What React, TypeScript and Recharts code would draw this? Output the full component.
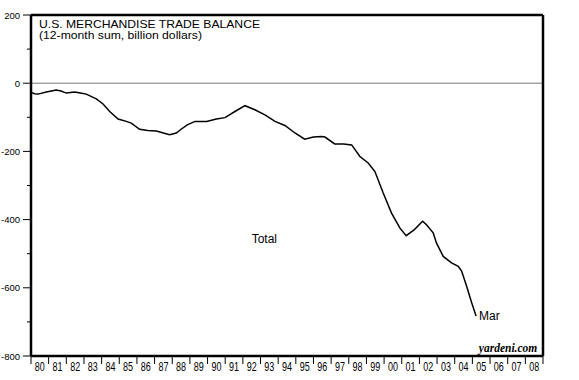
import React from 'react';
import { LineChart, Line, XAxis, YAxis, ReferenceLine, ReferenceDot } from 'recharts';

// 12-month sum, billion dollars (x = fractional year)
const years = [
  1980.0, 1980.2, 1980.4, 1980.87, 1981.43, 1981.7, 1982.0, 1982.47, 1982.8, 1983.13,
  1983.7, 1984.08, 1984.46, 1984.93, 1985.4, 1985.68, 1986.15, 1986.62, 1987.1, 1987.5,
  1987.85, 1988.23, 1988.5, 1988.85, 1989.29, 1989.95, 1990.5, 1990.99, 1991.55, 1992.12,
  1992.68, 1993.25, 1993.82, 1994.38, 1994.95, 1995.5, 1996.0, 1996.46, 1996.65, 1997.2,
  1997.7, 1998.16, 1998.63, 1999.1, 1999.48, 1999.95, 2000.42, 2000.9, 2001.25, 2001.7,
  2002.18, 2002.4, 2002.78, 2002.97, 2003.35, 2003.82, 2004.2, 2004.39, 2004.67, 2004.96,
  2005.21,
];
const balance = [
  -27, -31, -32, -26, -20, -23, -29, -26, -29, -32,
  -46, -61, -83, -105, -112, -117, -135, -139, -140, -146,
  -151, -146, -135, -122, -112, -112, -105, -101, -83, -66,
  -78, -93, -112, -124, -146, -164, -158, -156, -158, -178,
  -178, -181, -215, -234, -259, -322, -381, -425, -447, -430,
  -405, -415, -439, -469, -508, -527, -537, -551, -595, -644,
  -683,
];
const yearTicks = [
  1980, 1981, 1982, 1983, 1984, 1985, 1986, 1987, 1988, 1989, 1990, 1991, 1992, 1993, 1994,
  1995, 1996, 1997, 1998, 1999, 2000, 2001, 2002, 2003, 2004, 2005, 2006, 2007, 2008, 2009,
];
const valueTicks = [-800, -700, -600, -500, -400, -300, -200, -100, 0, 100, 200];

const data = years.map((year, i) => ({ year, balance: balance[i] }));

const W = 579;
const H = 380;
const LEFT_W = 31;
const RIGHT_W = 36;
const HALF_YEAR = (W - LEFT_W - RIGHT_W) / (yearTicks.length - 1) / 2;
const FONT = '"Liberation Sans", Arial, sans-serif';

function YearTick(props: any) {
  const { x, y, payload } = props;
  const isLast = payload.value === yearTicks[yearTicks.length - 1];
  return (
    <g>
      <line x1={x} y1={y} x2={x} y2={y + 8} stroke="#000" strokeWidth={1} />
      {!isLast && (
        <text
          transform={`translate(${x + HALF_YEAR},${y + 15}) scale(0.72,1)`}
          textAnchor="middle"
          fontSize={12.5}
          fontFamily={FONT}
          fill="#000"
        >
          {String(payload.value).slice(2)}
        </text>
      )}
    </g>
  );
}

function ValueTick(props: any) {
  const { x, y, payload, side } = props;
  const major = payload.value % 200 === 0;
  const dir = side === 'left' ? -1 : 1;
  const len = major ? 8 : 4;
  return (
    <g>
      <line x1={x} y1={y} x2={x + dir * len} y2={y} stroke="#000" strokeWidth={1} />
      {major && (
        <text
          x={side === 'left' ? x - 11 : x + 10}
          y={y + 3.5}
          textAnchor={side === 'left' ? 'end' : 'start'}
          fontSize={9.5}
          fontFamily={FONT}
          fill="#000"
        >
          {payload.value}
        </text>
      )}
    </g>
  );
}

export default function App() {
  const last = data[data.length - 1];
  return (
    <div style={{ position: 'absolute', left: 0, top: 0, width: W, height: H, background: '#fff' }}>
      <LineChart width={W} height={H} data={data} margin={{ top: 15, right: 0, bottom: 0, left: 0 }}>
        <XAxis
          dataKey="year"
          type="number"
          domain={[1980, 2009]}
          ticks={yearTicks}
          interval={0}
          height={24}
          tickSize={0}
          tickMargin={0}
          tickLine={false}
          axisLine={{ stroke: '#000', strokeWidth: 2.5 }}
          tick={<YearTick />}
        />
        <YAxis
          yAxisId="left"
          domain={[-800, 200]}
          ticks={valueTicks}
          interval={0}
          width={LEFT_W}
          tickSize={0}
          tickMargin={0}
          tickLine={false}
          axisLine={{ stroke: '#000', strokeWidth: 2.5 }}
          tick={<ValueTick side="left" />}
        />
        <YAxis
          yAxisId="right"
          orientation="right"
          domain={[-800, 200]}
          ticks={valueTicks}
          interval={0}
          width={RIGHT_W}
          tickSize={0}
          tickMargin={0}
          tickLine={false}
          axisLine={{ stroke: '#000', strokeWidth: 2.5 }}
          tick={<ValueTick side="right" />}
        />
        <ReferenceLine yAxisId="left" y={0} stroke="#777" strokeWidth={1} />
        <ReferenceLine yAxisId="left" y={200} stroke="#000" strokeWidth={2.5} />
        <Line
          yAxisId="left"
          type="linear"
          dataKey="balance"
          stroke="#000"
          strokeWidth={1.5}
          dot={false}
          isAnimationActive={false}
        />
        <ReferenceDot
          yAxisId="left"
          x={last.year}
          y={last.balance}
          r={0}
          stroke="none"
          label={{ value: 'Mar', position: 'right', offset: 3, fontSize: 12, fontFamily: FONT, fill: '#000' }}
        />
      </LineChart>
      <svg width={W} height={H} style={{ position: 'absolute', left: 0, top: 0, pointerEvents: 'none' }}>
        <text x={39} y={28.3} fontSize={10.5} fontFamily={FONT} fill="#000" textLength={221} lengthAdjust="spacingAndGlyphs">
          U.S. MERCHANDISE TRADE BALANCE
        </text>
        <text x={39} y={38.8} fontSize={10.5} fontFamily={FONT} fill="#000" textLength={163} lengthAdjust="spacingAndGlyphs">
          (12-month sum, billion dollars)
        </text>
        <text x={251.7} y={243.3} fontSize={12} fontFamily={FONT} fill="#000">
          Total
        </text>
        <text
          x={537.3}
          y={351.7}
          textAnchor="end"
          fontSize={11.5}
          fontWeight="bold"
          fontStyle="italic"
          fontFamily='"Liberation Serif", "Times New Roman", serif'
          fill="#000"
        >
          yardeni.com
        </text>
      </svg>
    </div>
  );
}
